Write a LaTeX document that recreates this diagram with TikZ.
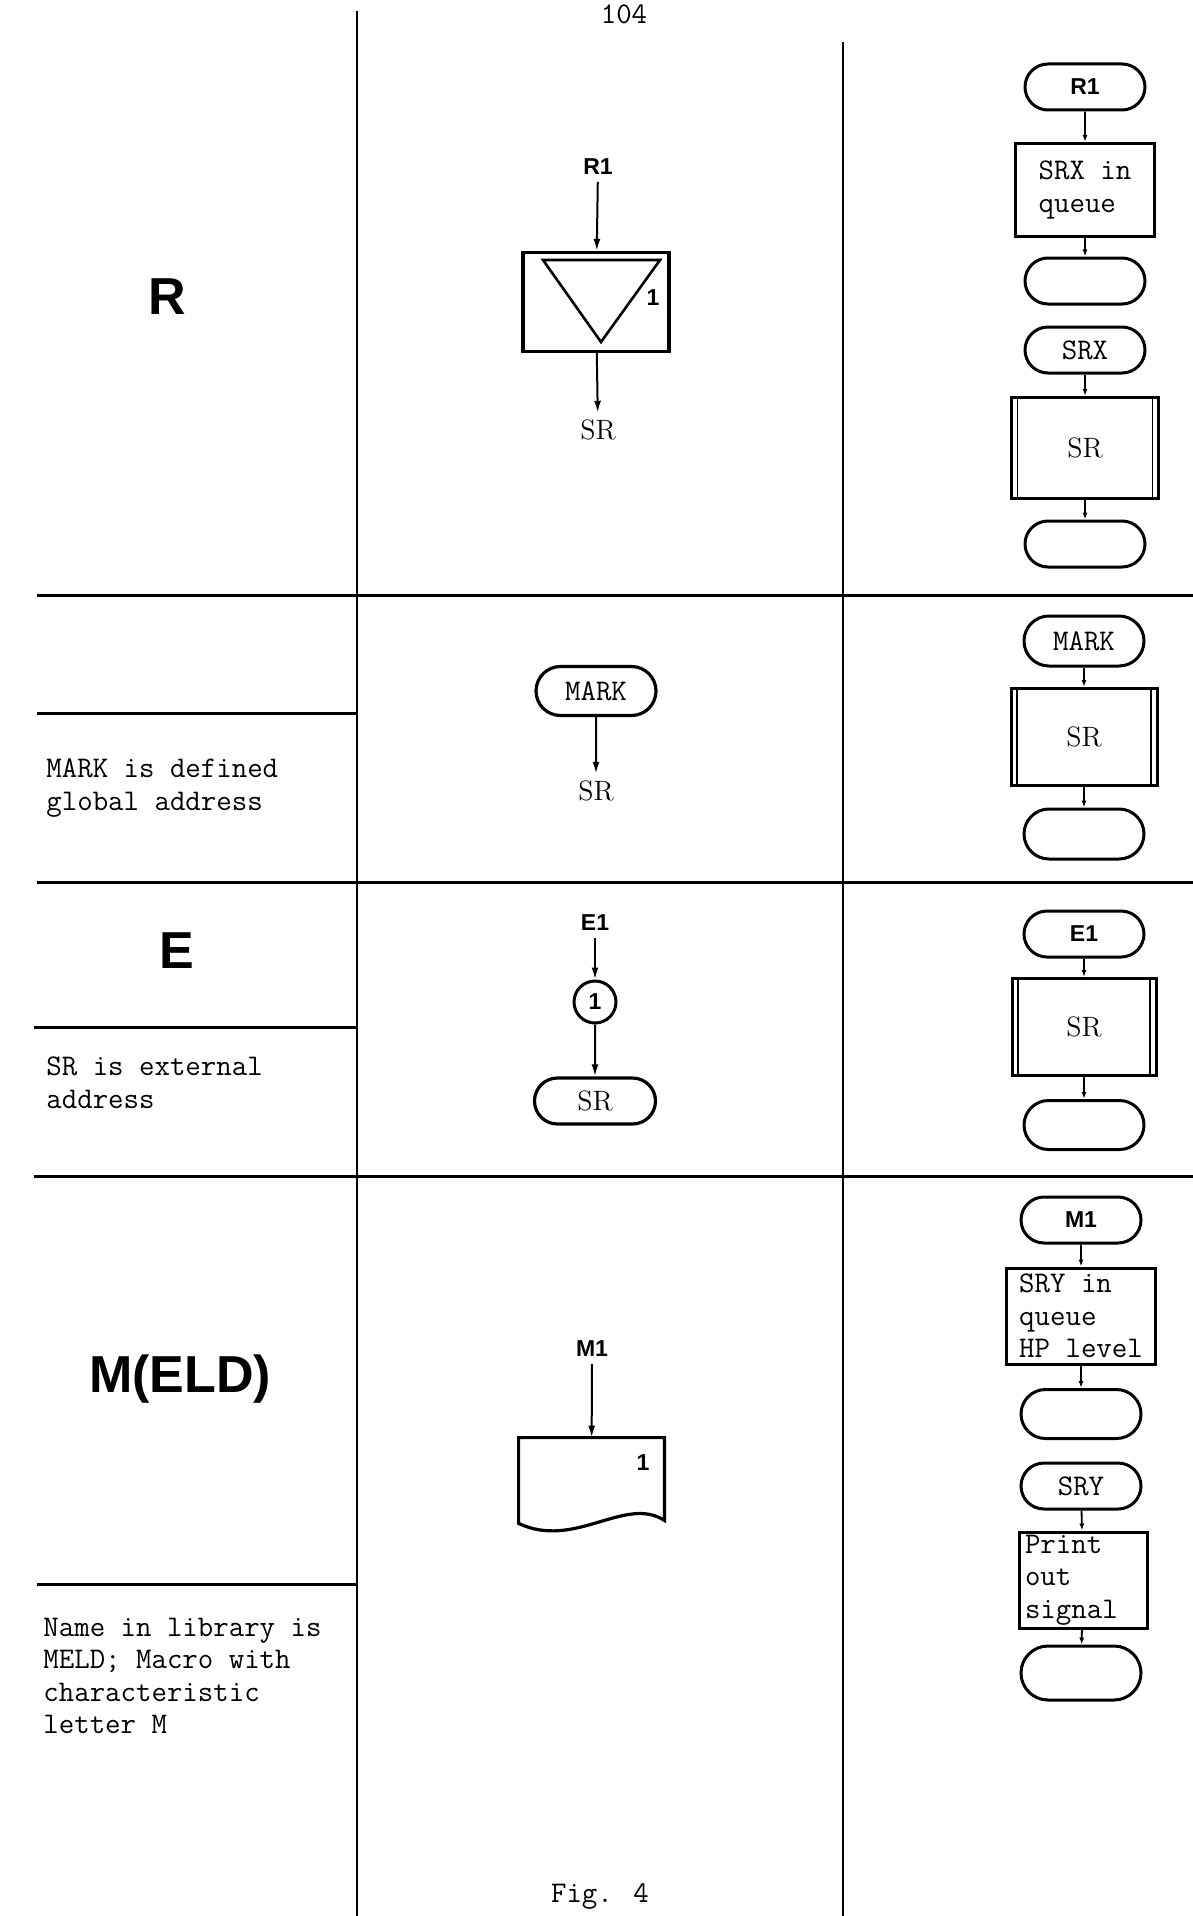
\documentclass[tikz,border=0pt]{standalone}
\usepackage{fontspec}
\newfontfamily\lettersf{Liberation Sans}
\usetikzlibrary{arrows.meta, positioning, shapes.misc}

\newcommand\typewr{\fontsize{15}{16.3}\selectfont\ttfamily}
\newcommand\serifsr{\fontsize{14}{16}\selectfont\rmfamily}
\newcommand\letsmall{\fontsize{11.5}{14}\selectfont\lettersf\bfseries}
\newcommand\letbig{\fontsize{26}{30}\selectfont\lettersf\bfseries}

\tikzset{
  term/.style={draw, rounded rectangle, line width=1.5pt, minimum width=60pt, minimum height=23pt, inner sep=0pt, font=\typewr},
  pbox/.style={draw, line width=1.5pt, inner sep=0pt, align=left, font=\typewr},
  subbox/.style={pbox, path picture={
      \draw[line width=0.8pt] ([xshift=3pt]path picture bounding box.north west) -- ([xshift=3pt]path picture bounding box.south west);
      \draw[line width=0.8pt] ([xshift=-3pt]path picture bounding box.north east) -- ([xshift=-3pt]path picture bounding box.south east);}},
  arr/.style={-{Latex[length=6pt,width=3.5pt]}, line width=1pt},
  sarr/.style={-{Latex[length=3.5pt,width=2.5pt]}, line width=0.9pt},
  hrule/.style={line width=1.5pt},
  colline/.style={line width=1pt},
  note/.style={anchor=west, align=left, inner sep=0pt, font=\typewr},
}

\begin{document}
\begin{tikzpicture}[x=0.5pt, y=-0.5pt]
  \useasboundingbox (0,0) rectangle (1193,1916);
  \clip (0,0) rectangle (1193,1916);

  % page number and caption
  \node[font=\typewr, anchor=north, inner sep=1pt] (pageno) at (624,2) {104};
  \node[font=\typewr, anchor=south, inner sep=1pt] (figcap) at (600,1912) {Fig. 4};

  % table lines
  \draw[colline] (357,11) -- (357,1916);
  \draw[colline] (843,42) -- (843,1916);
  \draw[hrule] (37,595) -- (1193,595);
  \draw[hrule] (37,882) -- (1193,882);
  \draw[hrule] (34,1176) -- (1193,1176);
  \draw[hrule] (37,713) -- (357,713);
  \draw[hrule] (34,1027) -- (357,1027);
  \draw[hrule] (37,1584) -- (357,1584);

  % left column
  \node[font=\letbig] (rlet) at (167,297) {R};
  \node[note] (marknote) at (46,788) {MARK is defined\\global address};
  \node[font=\letbig] (elet) at (177,951) {E};
  \node[note] (srnote) at (46,1083) {SR is external\\address};
  \node[font=\letbig] (mlet) at (180,1379) {M(ELD)};
  \node[note] (meldnote) at (43,1676) {Name in library is\\MELD; Macro with\\characteristic\\letter M};

  % middle column: R
  \node[font=\letsmall] (r1) at (598,167) {R1};
  \node[draw, line width=1.6pt, minimum width=73pt, minimum height=49.5pt, inner sep=0pt] (rbox) at (596,302) {};
  \draw[line width=1.3pt] (543,260) -- (660,260) -- (601,342) -- cycle;
  \node[font=\letsmall] (rone) at (653,298) {1};
  \node[font=\serifsr] (rsr) at (598,430) {SR};
  \draw[arr] (r1) -- (rbox);
  \draw[arr] (rbox) -- (rsr);

  % middle column: MARK
  \node[term, line width=1.6pt, minimum height=24.5pt] (mmark) at (596,691) {MARK};
  \node[font=\serifsr] (msr) at (596,791) {SR};
  \draw[arr] (mmark) -- (msr);

  % middle column: E
  \node[font=\letsmall] (e1) at (595,923) {E1};
  \node[draw, circle, line width=1.5pt, minimum size=21pt, inner sep=0pt, font=\letsmall] (econn) at (595,1002) {1};
  \node[term, line width=1.6pt, minimum width=60.5pt, font=\serifsr] (esr) at (595,1101) {SR};
  \draw[arr] (e1) -- (econn);
  \draw[arr] (econn) -- (esr);

  % middle column: M
  \node[font=\letsmall] (m1) at (592,1349) {M1};
  \node[minimum width=72.5pt, minimum height=41pt, inner sep=0pt] (mdoc) at (591.5,1479) {};
  \draw[line width=1.6pt] (mdoc.north west) -- (mdoc.north east) -- (mdoc.south east)
    .. controls (625,1495) and (575,1550) .. ([yshift=-1.5pt]mdoc.south west) -- cycle;
  \node[font=\letsmall] (mone) at (643,1463) {1};
  \draw[arr] (m1) -- (mdoc);

  % right column: R
  \node[term, font=\letsmall] (rr1) at (1085,87) {R1};
  \node[pbox, minimum width=69.5pt, minimum height=46.5pt] (rsrx) at (1085,190) {SRX in\\queue};
  \node[term] (rend1) at (1085,281) {};
  \node[term] (rsrxin) at (1085,350) {SRX};
  \node[subbox, minimum width=73.5pt, minimum height=50.5pt, font=\serifsr] (rsub) at (1085,448) {SR};
  \node[term] (rend2) at (1085,544) {};
  \draw[sarr] (rr1) -- (rsrx);
  \draw[sarr] (rsrx) -- (rend1);
  \draw[sarr] (rsrxin) -- (rsub);
  \draw[sarr] (rsub) -- (rend2);

  % right column: MARK
  \node[term, minimum height=25pt] (rmark) at (1084,641) {MARK};
  \node[subbox, minimum width=73pt, minimum height=48.5pt, font=\serifsr] (rmsub) at (1084,737) {SR};
  \node[term, minimum height=25pt] (rmend) at (1084,834) {};
  \draw[sarr] (rmark) -- (rmsub);
  \draw[sarr] (rmsub) -- (rmend);

  % right column: E
  \node[term, font=\letsmall] (re1) at (1084,934) {E1};
  \node[subbox, minimum width=72pt, minimum height=48.5pt, font=\serifsr] (resub) at (1084,1027) {SR};
  \node[term, minimum height=24.5pt] (reend) at (1084,1125) {};
  \draw[sarr] (re1) -- (resub);
  \draw[sarr] (resub) -- (reend);

  % right column: M
  \node[term, font=\letsmall] (rm1) at (1081,1220) {M1};
  \node[pbox, minimum width=74.5pt, minimum height=48pt, inner ysep=1pt] (rsry) at (1081,1316) {SRY in\\queue\\HP level};
  \node[term, minimum height=24.5pt] (rmend1) at (1081,1414) {};
  \node[term] (rsryin) at (1081,1486) {SRY};
  \node[pbox, minimum width=64pt, minimum height=48pt, text width=58pt, inner xsep=3pt, inner ysep=1pt] (rprint) at (1083,1580) {Print\\out\\signal};
  \node[term, minimum height=27pt] (rmend2) at (1081,1673) {};
  \draw[sarr] (rm1) -- (rsry);
  \draw[sarr] (rsry) -- (rmend1);
  \draw[sarr] (rsryin) -- (rprint);
  \draw[sarr] (rprint) -- (rmend2);
\end{tikzpicture}
\end{document}
